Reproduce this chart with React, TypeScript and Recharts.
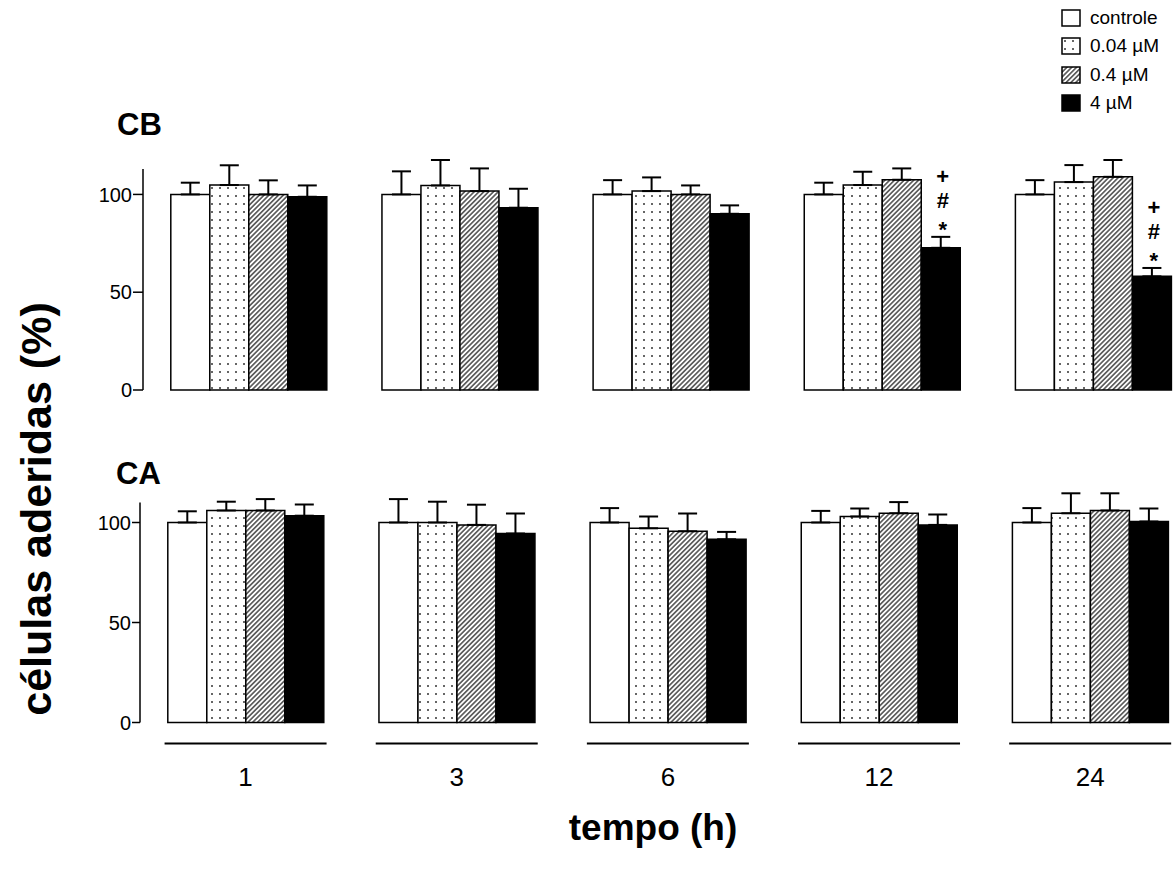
import { BarChart, Bar, XAxis, YAxis, ErrorBar, Legend, LabelList } from "recharts";

const FONT = "'Liberation Sans', Arial, Helvetica, sans-serif";

const times = ["1", "3", "6", "12", "24"];
const seriesNames = ["controle", "0.04 µM", "0.4 µM", "4 µM"];
const fills = ["#ffffff", "url(#dots)", "url(#hatch)", "#000000"];

// CB panel (mean, upper SEM)
const cbControle = [100, 100, 100, 100, 100];
const cbControleErr = [6, 11.8, 7.3, 6, 7.3];
const cb004 = [104.8, 104.6, 101.7, 104.8, 106.3];
const cb004Err = [10.1, 13, 7, 6.8, 8.7];
const cb04 = [100, 101.7, 100, 107.5, 109];
const cb04Err = [7.2, 11.6, 4.6, 5.8, 8.6];
const cb4 = [98.8, 93.2, 90.1, 72.7, 58.1];
const cb4Err = [5.8, 9.7, 4.3, 5.6, 4.3];
const cb4Marks = ["", "", "", "+#*", "+#*"];

// CA panel
const caControle = [100, 100, 100, 100, 100];
const caControleErr = [5.6, 11.7, 7.2, 5.8, 7.2];
const ca004 = [106, 100, 97.1, 103, 104.6];
const ca004Err = [4.4, 10.4, 5.9, 4, 10];
const ca04 = [106, 98.8, 95.6, 104.6, 106];
const ca04Err = [5.7, 10.1, 8.9, 5.6, 8.6];
const ca4 = [103.4, 94.5, 91.6, 98.8, 100.5];
const ca4Err = [5.6, 10, 3.7, 5.2, 6.5];

const yTicks = [0, 50, 100];

const cbRows = times.map((t, i) => ({
  t,
  v0: cbControle[i], e0: [0, cbControleErr[i]],
  v1: cb004[i], e1: [0, cb004Err[i]],
  v2: cb04[i], e2: [0, cb04Err[i]],
  v3: cb4[i], e3: [0, cb4Err[i]],
  mark: cb4Marks[i],
}));

const caRows = times.map((t, i) => ({
  t,
  v0: caControle[i], e0: [0, caControleErr[i]],
  v1: ca004[i], e1: [0, ca004Err[i]],
  v2: ca04[i], e2: [0, ca04Err[i]],
  v3: ca4[i], e3: [0, ca4Err[i]],
}));

// baseline shift so each glyph's visual centre sits on the target
const glyphShift: Record<string, number> = { "+": 7, "#": 7.5, "*": 12.5 };

function SigMarks(props: any) {
  const vb = props.viewBox || props;
  const { x, y, width, height } = vb;
  const index = props.index;
  const marks = cb4Marks[index];
  if (!marks) return null;
  const perUnit = height / cb4[index];
  const capY = y - cb4Err[index] * perUnit;
  const cx = x + width / 2 + 2;
  const n = marks.length;
  return (
    <g>
      {marks.split("").map((m, k) => (
        <text
          key={k}
          x={cx}
          y={capY - 12 - (n - 1 - k) * 24 + glyphShift[m]}
          textAnchor="middle"
          fontSize={22}
          fontWeight="bold"
          fontFamily={FONT}
          fill="#000"
        >
          {m}
        </text>
      ))}
    </g>
  );
}

function TimeTick(props: any) {
  const { x, y, payload } = props;
  return (
    <g>
      <line x1={x - 81} x2={x + 81} y1={y + 21} y2={y + 21} stroke="#000" strokeWidth={2} />
      <text x={x} y={y + 63} textAnchor="middle" fontSize={26} fontFamily={FONT} fill="#000">
        {payload.value}
      </text>
    </g>
  );
}

function LegendBox() {
  return (
    <div style={{ fontFamily: FONT, fontSize: 19, color: "#000" }}>
      {seriesNames.map((n, i) => (
        <div key={n} style={{ display: "flex", alignItems: "center", height: 28.3 }}>
          <svg width={20} height={18} style={{ marginRight: 9 }}>
            <rect x={1} y={1} width={18} height={16} fill={fills[i]} stroke="#000" strokeWidth={1.5} />
          </svg>
          <span>{n}</span>
        </div>
      ))}
    </div>
  );
}

function renderBars(withMarks: boolean) {
  return [0, 1, 2, 3].map((k) => (
    <Bar
      key={k}
      dataKey={`v${k}`}
      name={seriesNames[k]}
      fill={fills[k]}
      stroke="#000"
      strokeWidth={1.5}
      isAnimationActive={false}
    >
      <ErrorBar dataKey={`e${k}`} direction="y" width={9.5} stroke="#000" strokeWidth={2} />
      {withMarks && k === 3 ? <LabelList dataKey="mark" content={SigMarks} /> : null}
    </Bar>
  ));
}

const tickStyle = { fontSize: 20, fill: "#000", fontFamily: FONT };

export default function App() {
  return (
    <div
      style={{
        position: "absolute",
        left: 0,
        top: 0,
        width: 1174,
        height: 874,
        overflow: "hidden",
        background: "#fff",
        fontFamily: FONT,
      }}
    >
      <style>{".panel g[clip-path]{clip-path:none !important}"}</style>
      <svg width={0} height={0} style={{ position: "absolute" }}>
        <defs>
          <pattern id="dots" width={8} height={8} patternUnits="userSpaceOnUse">
            <rect width={8} height={8} fill="#fff" />
            <circle cx={4} cy={4} r={1} fill="#333" />
          </pattern>
          <pattern id="hatch" width={3.4} height={3.4} patternUnits="userSpaceOnUse" patternTransform="rotate(45)">
            <rect width={3.4} height={3.4} fill="#fff" />
            <line x1={1.7} y1={0} x2={1.7} y2={3.4} stroke="#3a3a3a" strokeWidth={1.4} />
          </pattern>
        </defs>
      </svg>

      <div className="panel" style={{ position: "absolute", left: 0, top: 0 }}>
        <BarChart
          width={1200}
          height={410}
          data={cbRows}
          margin={{ top: 169, right: 1.25, bottom: 20, left: 83 }}
          barCategoryGap={27.8}
          barGap={0}
        >
          <XAxis dataKey="t" hide />
          <YAxis
            width={60}
            domain={[0, 113]}
            allowDataOverflow
            ticks={yTicks}
            interval={0}
            tickSize={10}
            tickMargin={1}
            tick={tickStyle}
            stroke="#000"
            strokeWidth={1.5}
          />
          <Legend
            layout="vertical"
            align="center"
            verticalAlign="middle"
            wrapperStyle={{ left: 1061, top: 4, width: 113, height: "auto" }}
            content={LegendBox}
          />
          {renderBars(true)}
        </BarChart>
      </div>

      <div className="panel" style={{ position: "absolute", left: 0, top: 410 }}>
        <BarChart
          width={1200}
          height={464}
          data={caRows}
          margin={{ top: 92.5, right: 4.25, bottom: 0, left: 80 }}
          barCategoryGap={27.8}
          barGap={0}
        >
          <XAxis
            dataKey="t"
            height={151.5}
            axisLine={false}
            tickLine={false}
            tickSize={0}
            tickMargin={0}
            tick={TimeTick}
            interval={0}
          />
          <YAxis
            width={60}
            domain={[0, 110]}
            allowDataOverflow
            ticks={yTicks}
            interval={0}
            tickSize={8}
            tickMargin={1}
            tick={tickStyle}
            stroke="#000"
            strokeWidth={1.5}
          />
          {renderBars(false)}
        </BarChart>
      </div>

      <svg width={1174} height={874} style={{ position: "absolute", left: 0, top: 0, pointerEvents: "none" }}>
        <text x={117} y={135} fontSize={31} fontWeight="bold" fontFamily={FONT} fill="#000">CB</text>
        <text x={116} y={484} fontSize={31} fontWeight="bold" fontFamily={FONT} fill="#000">CA</text>
        <text x={653} y={840} textAnchor="middle" fontSize={37} fontWeight="bold" fontFamily={FONT} fill="#000">
          tempo (h)
        </text>
        <text
          x={51}
          y={509}
          transform="rotate(-90, 51, 509)"
          textAnchor="middle"
          fontSize={43}
          fontWeight="bold"
          fontFamily={FONT}
          fill="#000"
        >
          células aderidas (%)
        </text>
      </svg>
    </div>
  );
}
